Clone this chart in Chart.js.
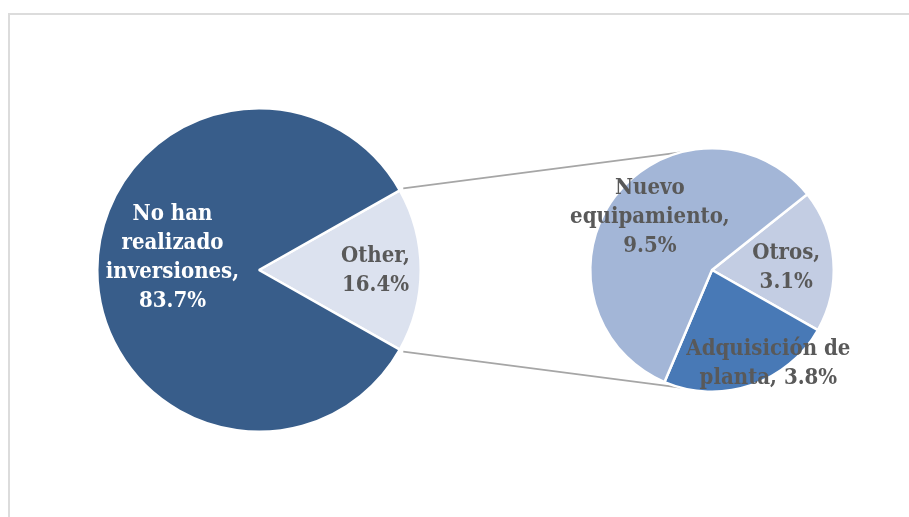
<!DOCTYPE html>
<html>
<head>
<meta charset="utf-8">
<script src="https://cdn.jsdelivr.net/npm/chart.js@4.4.1/dist/chart.umd.min.js"></script>
<style>
  html, body { margin: 0; padding: 0; background: #fff; overflow: hidden; }
  #wrap { position: relative; width: 909px; height: 517px; }
  #wrap canvas { position: absolute; left: 0; top: 0; }
  .frame { position: absolute; left: 8px; top: 13px; width: 960px; height: 560px;
           border: 2px solid #dcdcdc; box-sizing: border-box; }
</style>
</head>
<body>
<div id="wrap">
  <div class="frame"></div>
  <canvas id="mainPie" width="909" height="517"></canvas>
  <canvas id="subPie" width="909" height="517"></canvas>
</div>
<script>
// main pie: the "Other" slice is broken out into the second pie
const mainLabels = ['Other', 'No han realizado inversiones'];
const mainValues = [16.4, 83.7];

// breakdown of "Other"
const subLabels = ['Otros', 'Adquisición de planta', 'Nuevo equipamiento'];
const subValues = [3.1, 3.8, 9.5];

const mainColors = ['#dce2ef', '#385d8a'];
const subColors = ['#c3cde3', '#4879b6', '#a3b6d7'];

const FONT = 'bold 22px "DejaVu Serif", serif';
const LINE_H = 29;

// label placement: fraction of radius, angle tweak (deg), wrap width (px), colour
const mainLabelStyle = [
  { frac: 0.72, turn: 0.5, wrap: 80, color: '#595959' },
  { frac: 0.54, turn: 7.9, wrap: 150, color: '#ffffff' }
];
const subLabelStyle = [
  { frac: 0.61, turn: 2.5, wrap: 80, color: '#595959' },
  { frac: 0.90, turn: -12.2, wrap: 185, color: '#595959' },
  { frac: 0.67, turn: 3.2, wrap: 175, color: '#595959' }
];

function wrapText(ctx, text, maxW) {
  const words = text.split(' ');
  const lines = [];
  let cur = '';
  words.forEach(w => {
    const test = cur ? cur + ' ' + w : w;
    if (cur && ctx.measureText(test).width > maxW) {
      lines.push(cur);
      cur = w;
    } else {
      cur = test;
    }
  });
  if (cur) lines.push(cur);
  return lines;
}

const sliceLabels = {
  id: 'sliceLabels',
  afterDatasetsDraw(chart, args, opts) {
    const ctx = chart.ctx;
    const meta = chart.getDatasetMeta(0);
    const labels = chart.data.labels;
    const values = chart.data.datasets[0].data;
    ctx.save();
    ctx.font = FONT;
    ctx.fontStretch = 'condensed';
    ctx.textAlign = 'center';
    ctx.textBaseline = 'middle';
    meta.data.forEach((arc, i) => {
      const st = opts.style[i];
      const p = arc.getProps(['x', 'y', 'startAngle', 'endAngle', 'outerRadius'], true);
      const mid = (p.startAngle + p.endAngle) / 2 + st.turn * Math.PI / 180;
      const cx = p.x + Math.cos(mid) * p.outerRadius * st.frac;
      const cy = p.y + Math.sin(mid) * p.outerRadius * st.frac;
      const text = labels[i] + ', ' + values[i].toFixed(1) + '%';
      const lines = wrapText(ctx, text, st.wrap);
      ctx.fillStyle = st.color;
      lines.forEach((ln, k) => {
        ctx.fillText(ln, cx, cy + (k - (lines.length - 1) / 2) * LINE_H);
      });
    });
    ctx.restore();
  }
};

// lines joining the "Other" slice to the second pie
const connectors = {
  id: 'connectors',
  beforeDatasetsDraw(chart, args, opts) {
    const src = opts.source();
    if (!src) return;
    const other = src.getDatasetMeta(0).data[0].getProps(['x', 'y', 'startAngle', 'endAngle', 'outerRadius'], true);
    const sub = chart.getDatasetMeta(0).data[0].getProps(['x', 'y', 'outerRadius'], true);
    const r0 = other.outerRadius + 4;
    const a1 = -Math.PI / 2 - opts.spread, a2 = Math.PI / 2 + opts.spread;
    const ctx = chart.ctx;
    ctx.save();
    ctx.strokeStyle = '#a6a6a6';
    ctx.lineWidth = 1.6;
    ctx.beginPath();
    ctx.moveTo(other.x + Math.cos(other.startAngle) * r0, other.y + Math.sin(other.startAngle) * r0);
    ctx.lineTo(sub.x + Math.cos(a1) * sub.outerRadius, sub.y + Math.sin(a1) * sub.outerRadius);
    ctx.moveTo(other.x + Math.cos(other.endAngle) * r0, other.y + Math.sin(other.endAngle) * r0);
    ctx.lineTo(sub.x + Math.cos(a2) * sub.outerRadius, sub.y + Math.sin(a2) * sub.outerRadius);
    ctx.stroke();
    ctx.restore();
  }
};

const otherShare = mainValues[0] / (mainValues[0] + mainValues[1]) * 360;

const mainChart = new Chart(document.getElementById('mainPie'), {
  type: 'pie',
  data: {
    labels: mainLabels,
    datasets: [{
      data: mainValues,
      backgroundColor: mainColors,
      borderColor: '#ffffff',
      borderWidth: 2.5
    }]
  },
  options: {
    responsive: false,
    animation: false,
    rotation: 90 - otherShare / 2,
    layout: { padding: { left: 96, right: 487, top: 107, bottom: 84 } },
    plugins: {
      legend: { display: false },
      tooltip: { enabled: false },
      sliceLabels: { style: mainLabelStyle }
    }
  },
  plugins: [sliceLabels]
});

new Chart(document.getElementById('subPie'), {
  type: 'pie',
  data: {
    labels: subLabels,
    datasets: [{
      data: subValues,
      backgroundColor: subColors,
      borderColor: '#ffffff',
      borderWidth: 2.5
    }]
  },
  options: {
    responsive: false,
    animation: false,
    rotation: 51.5,
    layout: { padding: { left: 589, right: 74, top: 147, bottom: 124 } },
    plugins: {
      legend: { display: false },
      tooltip: { enabled: false },
      sliceLabels: { style: subLabelStyle },
      connectors: { source: () => mainChart, spread: 15 * Math.PI / 180 }
    }
  },
  plugins: [connectors, sliceLabels]
});
</script>
</body>
</html>
